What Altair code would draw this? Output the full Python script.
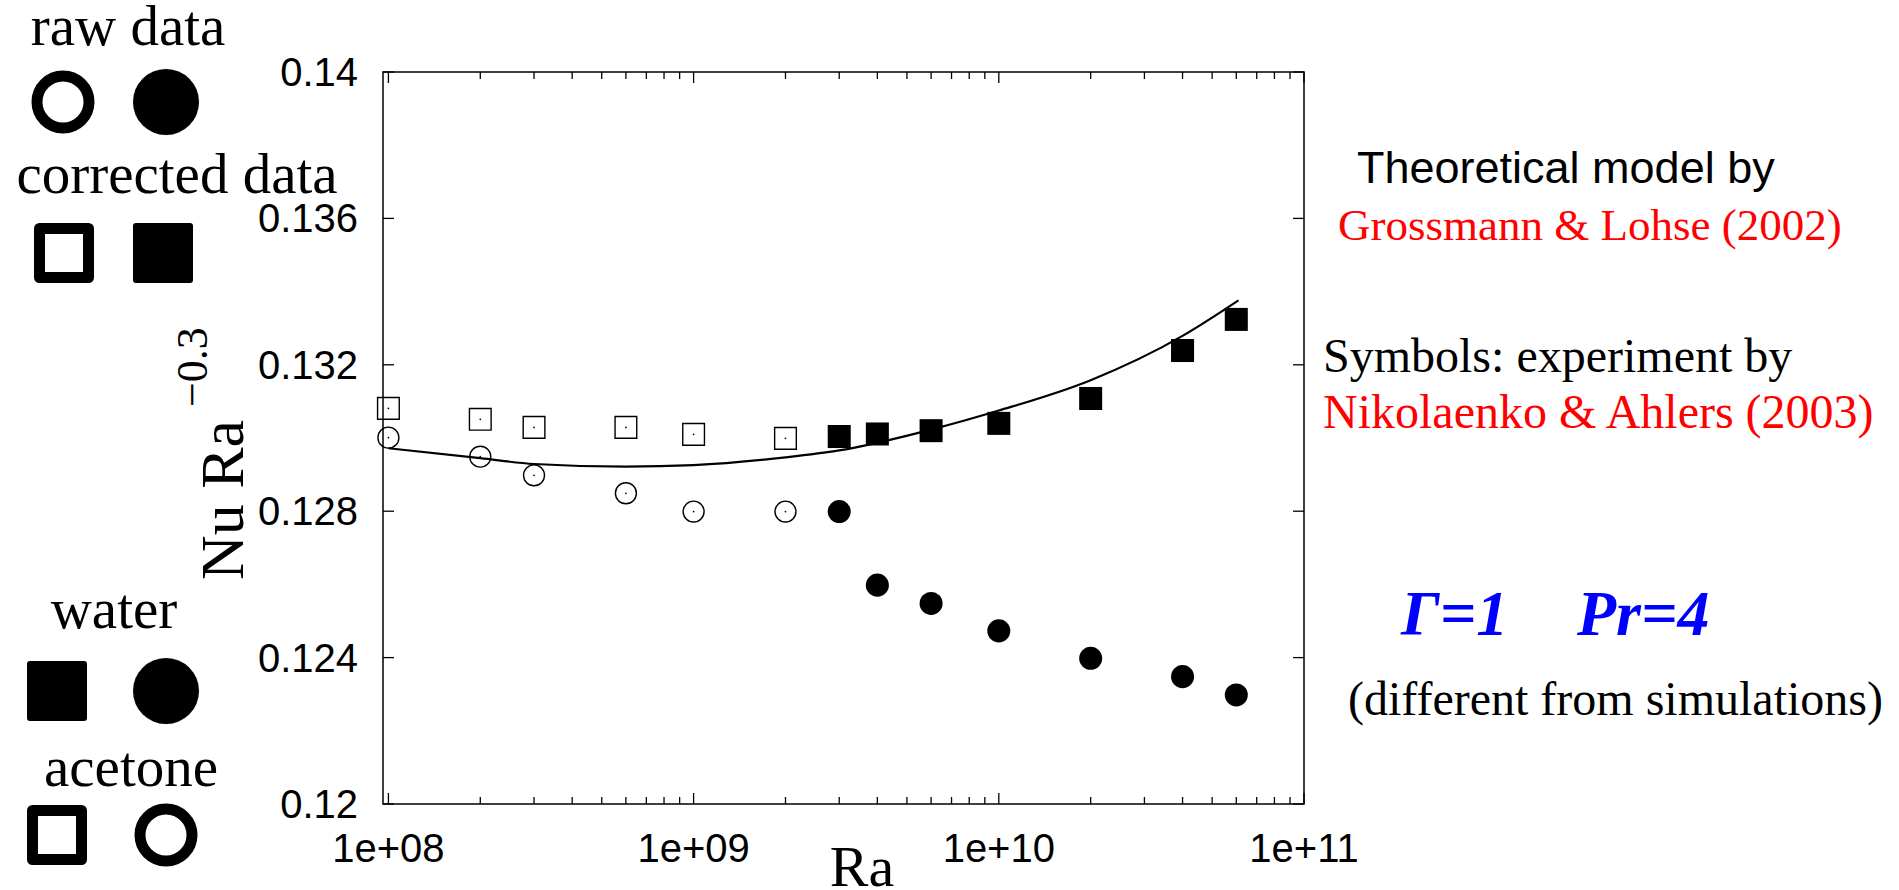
import altair as alt
import pandas as pd

# ---------------- data ----------------
ra_acetone = [1e8, 2e8, 3e8, 6e8, 1e9, 2e9]
corrected_acetone = [0.13081, 0.13051, 0.13029, 0.13029, 0.13010, 0.12999]
raw_acetone = [0.13001, 0.12949, 0.12898, 0.12849, 0.12799, 0.12799]

ra_water = [3e9, 4e9, 6e9, 1e10, 2e10, 4e10, 6e10]
corrected_water = [0.13004, 0.13011, 0.13020, 0.13040, 0.13108, 0.13239, 0.13324]
raw_water = [0.12799, 0.12598, 0.12548, 0.12473, 0.12398, 0.12348, 0.12298]

ra_model = [1e8, 2e8, 3e8, 6e8, 1e9, 2e9, 3e9, 6e9, 1e10, 2e10, 4e10, 6.1e10]
nu_model = [0.12972, 0.12945, 0.12929, 0.12922, 0.12926, 0.12947, 0.12966,
            0.13023, 0.13075, 0.13158, 0.13279, 0.13376]

x_tick_values = [1e8, 1e9, 1e10, 1e11]
x_tick_labels = ["1e+08", "1e+09", "1e+10", "1e+11"]
x_minor_factors = [2, 3, 4, 5, 6, 7, 8, 9]
y_tick_values = [0.12, 0.124, 0.128, 0.132, 0.136, 0.14]
y_tick_labels = ["0.12", "0.124", "0.128", "0.132", "0.136", "0.14"]

# ---------------- layout ----------------
W, H = 921, 732
SERIF = "Liberation Serif"
SANS = "Liberation Sans"

xs = alt.Scale(type="log", domain=[9.6e7, 1e11], nice=False)
ys = alt.Scale(domain=[0.12, 0.14], nice=False, zero=False)

layers = []

# model curve
model_df = pd.DataFrame({"Ra": ra_model, "v": nu_model})
layers.append(
    alt.Chart(model_df).mark_line(color="black", strokeWidth=2.2, interpolate="monotone").encode(
        x=alt.X("Ra:Q", scale=xs, axis=None),
        y=alt.Y("v:Q", scale=ys, axis=None),
    )
)


def pts(ra, vals, shape, filled, size, sw):
    df = pd.DataFrame({"Ra": ra, "v": vals})
    return alt.Chart(df).mark_point(shape=shape, filled=filled, size=size, strokeWidth=sw,
                                    color="black", opacity=1).encode(
        x=alt.X("Ra:Q", scale=xs, axis=None), y=alt.Y("v:Q", scale=ys, axis=None))


layers.append(pts(ra_acetone, corrected_acetone, "square", False, 470, 1.4))
layers.append(pts(ra_acetone, corrected_acetone, "circle", True, 3, 0))
layers.append(pts(ra_acetone, raw_acetone, "circle", False, 440, 1.4))
layers.append(pts(ra_acetone, raw_acetone, "circle", True, 3, 0))
layers.append(pts(ra_water, corrected_water, "square", True, 530, 0))
layers.append(pts(ra_water, raw_water, "circle", True, 530, 0))

# inward ticks (gnuplot style)
ytick_df = pd.DataFrame({"v": y_tick_values, "lab": y_tick_labels})
for x0, x1 in [(0, 11), (W - 11, W)]:
    layers.append(alt.Chart(ytick_df).mark_rule(color="black", strokeWidth=1.3).encode(
        y=alt.Y("v:Q", scale=ys, axis=None), x=alt.value(x0), x2=alt.value(x1)))

xmaj_df = pd.DataFrame({"v": x_tick_values, "lab": x_tick_labels})
xmin_df = pd.DataFrame({"v": [d * f for d in x_tick_values[:-1] for f in x_minor_factors]})
for df, ln in [(xmaj_df, 11), (xmin_df, 7)]:
    for y0, y1 in [(H, H - ln), (0, ln)]:
        layers.append(alt.Chart(df).mark_rule(color="black", strokeWidth=1.3).encode(
            x=alt.X("v:Q", scale=xs, axis=None), y=alt.value(y0), y2=alt.value(y1)))

# tick labels, placed through the scales
layers.append(alt.Chart(xmaj_df).mark_text(font=SANS, fontSize=40, color="black", align="center",
                                           baseline="alphabetic").encode(
    x=alt.X("v:Q", scale=xs, axis=None), y=alt.value(790), text="lab:N"))
layers.append(alt.Chart(ytick_df).mark_text(font=SANS, fontSize=40, color="black", align="right",
                                            baseline="alphabetic", dy=14).encode(
    y=alt.Y("v:Q", scale=ys, axis=None), x=alt.value(-25), text="lab:N"))


# ---------------- annotation text ----------------
def txt(s, x, y, size, color="black", font=SERIF, align="left", angle=0,
        style="normal", weight="normal"):
    df = pd.DataFrame({"t": [s]})
    return alt.Chart(df).mark_text(font=font, fontSize=size, color=color, align=align,
                                   baseline="alphabetic", angle=angle, fontStyle=style,
                                   fontWeight=weight).encode(
        text="t:N", x=alt.value(x), y=alt.value(y))


layers += [
    txt("raw data", -255, -27, 57, align="center"),
    txt("corrected data", -206, 121, 57, align="center"),
    txt("water", -269, 556, 57, align="center"),
    txt("acetone", -252, 714, 57, align="center"),
    txt("Theoretical model by", 974, 111, 45, font=SANS),
    txt("Grossmann & Lohse (2002)", 955, 168, 45, color="#ff0000"),
    txt("Symbols: experiment by", 940, 300, 48),
    txt("Nikolaenko & Ahlers (2003)", 940, 356, 48, color="#ff0000"),
    txt("Γ=1", 1018, 563, 64, color="#0000ff", style="italic", weight="bold"),
    txt("Pr=4", 1194, 563, 64, color="#0000ff", style="italic", weight="bold"),
    txt("(different from simulations)", 965, 643, 48),
    txt("Nu Ra", -140, 428, 62, align="center", angle=270),
    txt("\u22120.3", -176, 335, 44, align="left", angle=270),
    txt("Ra", 479, 814, 58, align="center"),
]


# ---------------- legend symbols ----------------
def sym(x, y, shape, filled, size, sw):
    df = pd.DataFrame({"k": [shape]})
    return alt.Chart(df).mark_point(shape=shape, filled=filled, size=size, strokeWidth=sw,
                                    fill="black" if filled else "white", stroke="black",
                                    opacity=1, strokeJoin="round").encode(
        x=alt.value(x), y=alt.value(y))


layers += [
    sym(-320, 30, "circle", False, 2704, 11),
    sym(-217, 30, "circle", True, 4356, 0.1),
    sym(-319, 181, "square", False, 2401, 11),
    sym(-220, 181, "square", True, 2916, 6),
    sym(-326, 619, "square", True, 2916, 6),
    sym(-217, 619, "circle", True, 4356, 0.1),
    sym(-326, 763, "square", False, 2401, 11),
    sym(-217, 763, "circle", False, 2704, 11),
]

chart = alt.layer(*layers).properties(
    width=W, height=H,
    padding={"left": 383, "top": 72, "right": 595, "bottom": 86},
    autosize=alt.AutoSizeParams(type="none"),
    background="white",
).configure_view(stroke="black", strokeWidth=1.5)

chart.save("out.html", embed_options={"renderer": "svg", "actions": False})
